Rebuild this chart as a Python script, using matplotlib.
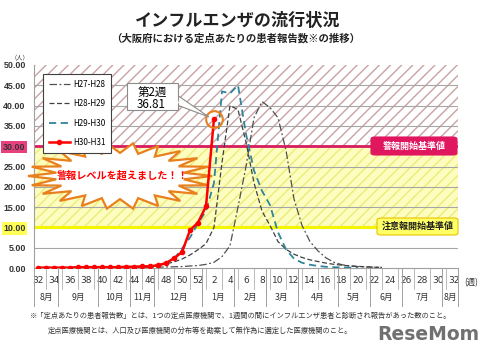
import numpy as np
import matplotlib
matplotlib.use('Agg')
import matplotlib.pyplot as plt
import matplotlib.transforms as mtransforms
from matplotlib.patches import Polygon, FancyBboxPatch

plt.rcParams['font.family'] = ['Noto Sans CJK JP', 'DejaVu Sans']

# ---------------- data ----------------
week_labels = list(range(32, 53)) + list(range(1, 33))      # 53 weeks (Aug -> Aug)
months = ['8月', '9月', '10月', '11月', '12月', '1月', '2月', '3月', '4月', '5月', '6月', '7月', '8月']
weeks_per_month = [3, 5, 4, 3, 6, 4, 4, 4, 5, 4, 4, 5, 2]
series_names = ['H27-H28', 'H28-H29', 'H29-H30', 'H30-H31']

N = None
h27_h28 = [N, N, N, N,
           0.1, 0.1, 0.1, 0.1, 0.1, 0.1, 0.1, 0.1, 0.1, 0.15, 0.15,
           0.2, 0.25, 0.3, 0.35, 0.5, 0.6,
           0.9, 1.4, 2.8, 5.5, 15, 25, 37, 41, 39.5, 37, 29, 17, 10.5, 6.5, 4.2, 2.5,
           1.4, 0.8, 0.5, 0.35, 0.25, 0.2, 0.15,
           N, N, N, N, N, N, N, N, N]
h28_h29 = [N, N, N, N,
           0.1, 0.1, 0.1, 0.1, 0.1, 0.15, 0.15, 0.2, 0.25, 0.3, 0.4,
           0.6, 1.0, 1.5, 2.2, 3.2, 4.5,
           6, 10, 26, 40, 39, 31, 21, 14, 10.5, 6.5, 4.6, 3.4, 2.6, 2.0, 1.6, 1.2,
           0.9, 0.7, 0.5, 0.4, 0.3, 0.2, 0.15,
           N, N, N, N, N, N, N, N, N]
h29_h30 = [N, N, N, N,
           0.1, 0.1, 0.1, 0.1, 0.1, 0.1, 0.15, 0.2, 0.2, 0.3, 0.4,
           0.6, 1.1, 2.2, 4.8, 7.5, 11,
           14, 21, 43.5, 43, 45, 33, 24, 19, 15.5, 8.8, 4.6, 2.3, 1.3, 0.8, 0.5, 0.3,
           0.2, 0.15, 0.1, 0.1,
           N, N, N, N, N, N, N, N, N, N, N, N]
h30_h31 = [0.1, 0.1, 0.1, 0.1, 0.1, 0.2, 0.2, 0.2, 0.2, 0.2, 0.2, 0.3, 0.3, 0.4, 0.4,
           0.7, 1.2, 2.4, 3.9, 9.3, 11.2,
           15.2, 36.81] + [N] * 30

alarm_level = 30
warning_level = 10

# ---------------- figure ----------------
W, H = 482, 356
fig = plt.figure(figsize=(W / 100, H / 100), dpi=100)
AX_L, AX_R, AX_T, AX_B = 34, 458, 65, 268
ax = fig.add_axes([AX_L / W, 1 - AX_B / H, (AX_R - AX_L) / W, (AX_B - AX_T) / H])


def af(px, py):
    """image pixel -> axes fraction"""
    return ((px - AX_L) / (AX_R - AX_L), (AX_B - py) / (AX_B - AX_T))


def ff(px, py):
    """image pixel -> figure fraction"""
    return (px / W, 1 - py / H)


x = np.arange(len(week_labels))
arr = lambda s: np.array([np.nan if v is None else v for v in s], dtype=float)

ax.set_xlim(-0.5, len(week_labels) - 0.5)
ax.set_ylim(0, 50)

# bands
ax.axhspan(alarm_level, 50, facecolor='white', edgecolor='#c9a3a3', hatch='///', lw=0, zorder=0)
ax.axhspan(warning_level, alarm_level, facecolor='#fdfdc0', edgecolor='#ecec78', hatch='///', lw=0, zorder=0)

for v in range(5, 50, 5):
    if v not in (alarm_level, warning_level):
        ax.axhline(v, color='#a6a6a6', lw=0.8, zorder=1)
ax.axhline(alarm_level, color='#d81b60', lw=2.0, zorder=2)
ax.axhline(warning_level, color='#f5f500', lw=2.2, zorder=2)

# explosion callout
cx, cy, rx, ry = 120, 176, 92, 33
nsp = 22
ang = np.linspace(0, 2 * np.pi, 2 * nsp, endpoint=False)
rad = np.where(np.arange(2 * nsp) % 2 == 0, 1.0, 0.70)
pts = [af(cx + rx * r * np.cos(a), cy + ry * r * np.sin(a)) for a, r in zip(ang, rad)]
ax.add_patch(Polygon(pts, closed=True, facecolor='white', edgecolor='#e8801e', lw=1.6,
                     transform=ax.transAxes, clip_on=False, zorder=4))
ax.text(*af(123, 176), '警報レベルを超えました！！', transform=ax.transAxes, ha='center', va='center',
        color='#ff0000', fontsize=7.3, fontweight='bold', zorder=5)

# series
ax.plot(x, arr(h27_h28), color='#505050', lw=0.9, ls=(0, (6, 2, 1.5, 2)), label=series_names[0], zorder=3)
ax.plot(x, arr(h28_h29), color='#404040', lw=0.9, ls=(0, (4, 2)), label=series_names[1], zorder=3)
ax.plot(x, arr(h29_h30), color='#31849b', lw=1.3, ls=(0, (4, 2.5)), label=series_names[2], zorder=3)
ax.plot(x, arr(h30_h31), color='#ff0000', lw=1.8, marker='o', ms=3.0, label=series_names[3], zorder=6)

# highlight latest point
last_i = int(np.where(~np.isnan(arr(h30_h31)))[0][-1])
last_v = arr(h30_h31)[last_i]
ax.plot([last_i], [last_v], marker='o', ms=12, mfc='none', mec='#e8801e', mew=1.5, zorder=7)

# callout box with pointer
ax.add_patch(Polygon([af(177, 95), af(177, 105), af(209, 117)], closed=True, facecolor='white',
                     edgecolor='#8c8c8c', lw=0.8, transform=ax.transAxes, zorder=7))
bx0, by0 = af(127, 110)
bx1, by1 = af(178, 83)
ax.add_patch(FancyBboxPatch((bx0, by0), bx1 - bx0, by1 - by0, boxstyle='square,pad=0',
                            facecolor='white', edgecolor='#8c8c8c', lw=0.8, transform=ax.transAxes, zorder=8))
ax.add_patch(Polygon([af(176.5, 95.8), af(176.5, 104.2), af(179, 103)], closed=True, facecolor='white',
                     edgecolor='none', transform=ax.transAxes, zorder=9))
ax.text(*af(152, 92), f'第{week_labels[last_i]}週', transform=ax.transAxes, ha='center', va='center',
        fontsize=8.3, zorder=10)
ax.text(*af(151, 104), f'{last_v:.2f}', transform=ax.transAxes, ha='center', va='center',
        fontsize=8.3, zorder=10)

# threshold labels
def label_box(x0, y0, x1, y1, text, fc, ec, tc):
    a0 = af(x0, y1)
    a1 = af(x1, y0)
    ax.add_patch(FancyBboxPatch(a0, a1[0] - a0[0], a1[1] - a0[1],
                                boxstyle='round,pad=0,rounding_size=0.01', facecolor=fc, edgecolor=ec,
                                lw=0.8, transform=ax.transAxes, clip_on=False, zorder=8))
    ax.text((a0[0] + a1[0]) / 2, (a0[1] + a1[1]) / 2, text, transform=ax.transAxes, ha='center',
            va='center', color=tc, fontsize=6.5, fontweight='bold', zorder=9)


label_box(371, 137, 457, 155, '警報開始基準値', '#e0175f', '#e0175f', 'white')
label_box(377, 218, 458, 235, '注意報開始基準値', '#ffff66', '#e6c200', '#222222')

# legend
leg = ax.legend(loc='upper left', bbox_to_anchor=af(43, 74), fontsize=5.8, frameon=True, fancybox=False,
                edgecolor='#404040', framealpha=1, handlelength=2.6, labelspacing=1.3, borderpad=0.7,
                handletextpad=0.4, borderaxespad=0)
leg.get_frame().set_linewidth(0.8)
leg.set_zorder(9)

# axes styling
for s in ['top', 'right']:
    ax.spines[s].set_visible(False)
ax.spines['left'].set_color('#a0a0a0')
ax.spines['bottom'].set_color('#a0a0a0')
ax.set_yticks(np.arange(0, 51, 5))
ax.set_yticklabels([f'{v:.2f}' for v in np.arange(0, 51, 5)], fontsize=6.4, fontweight='bold',
                   color='#333333', family='Liberation Sans')
ax.tick_params(axis='y', length=0, pad=6)
for lab, v in zip(ax.get_yticklabels(), np.arange(0, 51, 5)):
    if v == alarm_level:
        lab.set_bbox(dict(facecolor='#e8407f', edgecolor='none', pad=1.2))
    elif v == warning_level:
        lab.set_bbox(dict(facecolor='#ffff55', edgecolor='none', pad=1.2))

even = x[::2]
ax.set_xticks(even)
ax.set_xticklabels([str(week_labels[i]) for i in even], fontsize=6.5, color='#333333', family='DejaVu Sans')
ax.tick_params(axis='x', length=0, pad=6)

trans = mtransforms.blended_transform_factory(ax.transData, ax.transAxes)
week_row = 21 / (AX_B - AX_T)
month_row = 38 / (AX_B - AX_T)
for i in x[1::2]:
    ax.plot([i, i], [0, -week_row], color='#b0b0b0', lw=0.6, transform=trans, clip_on=False)
bounds = np.concatenate([[-0.5], np.cumsum(weeks_per_month) - 0.5])
for b in bounds:
    ax.plot([b, b], [0, -month_row], color='#a0a0a0', lw=0.7, transform=trans, clip_on=False)
for m, b0, b1 in zip(months, bounds[:-1], bounds[1:]):
    ax.text((b0 + b1) / 2, -29 / (AX_B - AX_T), m, transform=trans, ha='center', va='center',
            fontsize=6.3, color='#333333')

# texts
fig.text(*ff(238, 21), 'インフルエンザの流行状況', ha='center', va='center', fontsize=12.3, fontweight='bold',
         color='#222222')
fig.text(*ff(236, 38), '（大阪府における定点あたりの患者報告数※の推移）', ha='center', va='center', fontsize=7.5,
         fontweight='bold', color='#222222')
fig.text(*ff(20, 57), '（人）', ha='center', va='center', fontsize=4.5, color='#333333')
fig.text(*ff(471, 283), '(週)', ha='center', va='center', fontsize=6, color='#333333')
fig.text(*ff(30, 316), '※「定点あたりの患者報告数」とは、1つの定点医療機関で、1週間の間にインフルエンザ患者と診断され報告があった数のこと。',
         ha='left', va='center', fontsize=5.25, color='#333333')
fig.text(*ff(48, 331), '定点医療機関とは、人口及び医療機関の分布等を勘案して無作為に選定した医療機関のこと。',
         ha='left', va='center', fontsize=5.25, color='#333333')
fig.text(*ff(428, 335), 'ReseMom', ha='center', va='center', fontsize=13.5, fontweight='bold', color='#707070',
         family='DejaVu Sans')

fig.savefig('out.png', dpi=100)
